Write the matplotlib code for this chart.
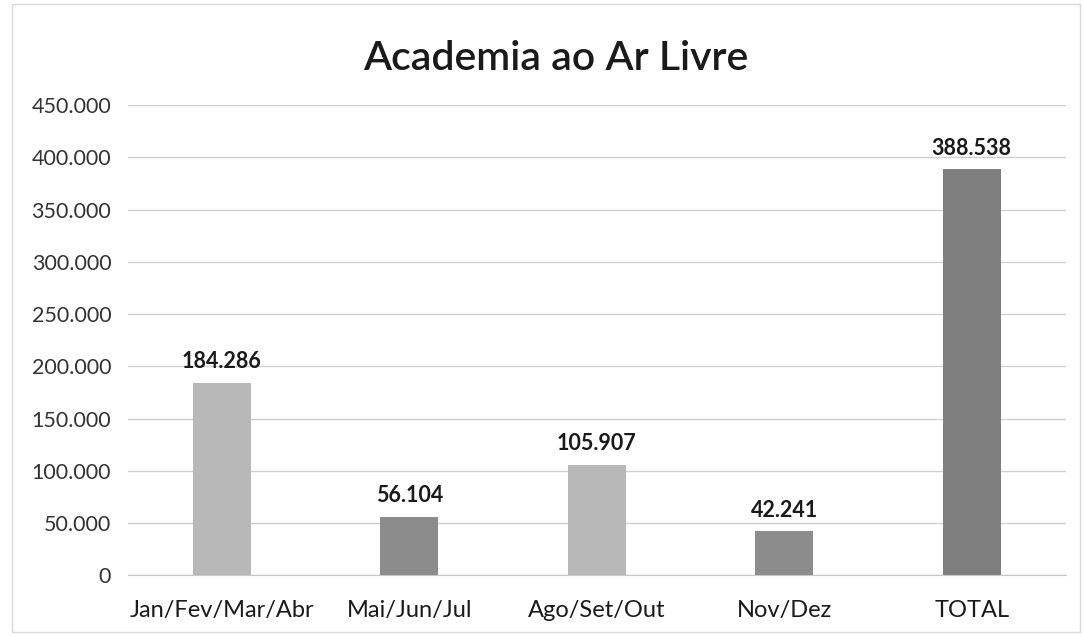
import matplotlib
matplotlib.use('Agg')
import matplotlib.pyplot as plt
from matplotlib.ticker import FuncFormatter
from matplotlib.patches import Rectangle

plt.rcParams['font.family'] = ['Lato', 'DejaVu Sans']

categorias = ['Jan/Fev/Mar/Abr', 'Mai/Jun/Jul', 'Ago/Set/Out', 'Nov/Dez', 'TOTAL']
valores = [184286, 56104, 105907, 42241, 388538]
rotulos = ['184.286', '56.104', '105.907', '42.241', '388.538']
cores = ['#b8b8b8', '#8c8c8c', '#b8b8b8', '#8c8c8c', '#7e7e7e']

fig = plt.figure(figsize=(10.84, 6.37), dpi=100)
ax = fig.add_axes([0.118, 0.097, 0.865, 0.738])

x = range(len(categorias))
ax.bar(x, valores, width=0.31, color=cores, zorder=2)
for i, v in enumerate(valores):
    ax.text(i, v + 10000, rotulos[i], ha='center', va='bottom',
            fontsize=15.5, fontweight='bold', color='#1a1a1a')

ax.set_xlim(-0.5, len(categorias) - 0.5)
ax.set_ylim(0, 450000)
ax.set_yticks(range(0, 450001, 50000))
ax.yaxis.set_major_formatter(FuncFormatter(lambda v, p: f"{int(v):,}".replace(',', '.')))
ax.set_xticks(list(x))
ax.set_xticklabels(categorias)
ax.tick_params(axis='both', length=0, colors='#333333')
ax.tick_params(axis='x', pad=18, labelsize=17, labelcolor='#1a1a1a')
ax.tick_params(axis='y', pad=12, labelsize=15.5)
ax.grid(axis='y', color='#d0d0d0', linewidth=1, zorder=0)
for s in ['top', 'right', 'left']:
    ax.spines[s].set_visible(False)
ax.spines['bottom'].set_color('#c8c8c8')

fig.text(0.513, 0.908, 'Academia ao Ar Livre', ha='center', va='center',
         fontsize=29.5, fontweight='semibold', color='#1a1a1a')

fig.patches.append(Rectangle((0.011, 0.008), 0.985, 0.985, transform=fig.transFigure,
                             fill=False, edgecolor='#d8d8d8', linewidth=1))

fig.savefig('out.png', dpi=100)
plt.close(fig)
